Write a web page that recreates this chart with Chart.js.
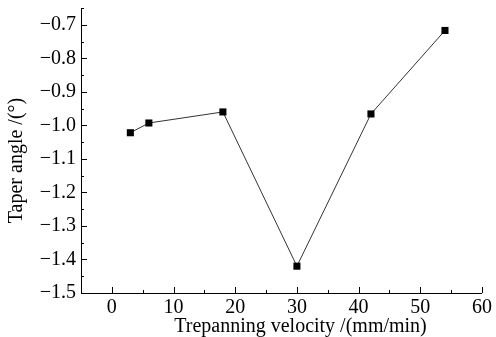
<!DOCTYPE html>
<html>
<head>
<meta charset="utf-8">
<script src="https://cdn.jsdelivr.net/npm/chart.js@4"></script>
<style>
  html, body { margin: 0; padding: 0; background: #fff; overflow: hidden; }
  #wrap { width: 496px; height: 337px; position: relative; }
</style>
</head>
<body>
<div id="wrap"><canvas id="taper-chart"></canvas></div>
<script>
// values
const velocity = [3, 6, 18, 30, 42, 54];
const taperAngle = [-1.022, -0.993, -0.960, -1.420, -0.966, -0.717];
const xTicks = [0, 10, 20, 30, 40, 50, 60];
const yTicks = [-1.5, -1.4, -1.3, -1.2, -1.1, -1.0, -0.9, -0.8, -0.7];
const xTitle = 'Trepanning velocity /(mm/min)';
const yTitle = 'Taper angle /(\u00b0)';

const FONT = 'Liberation Serif';

function fmtY(v) {
    return (v < 0 ? '\u2212' : '') + Math.abs(v).toFixed(1);
}

// axis lines, inward ticks and axis titles (titles sit a bit off-centre in the original)
const axesDeco = {
    id: 'axesDeco',
    afterDraw(chart) {
        const ctx = chart.ctx;
        const area = chart.chartArea;
        const xs = chart.scales.x, ys = chart.scales.y;
        ctx.save();
        ctx.strokeStyle = '#000';
        ctx.lineWidth = 1;
        ctx.beginPath();
        ctx.moveTo(area.left + 0.5, area.top);
        ctx.lineTo(area.left + 0.5, area.bottom + 0.5);
        ctx.lineTo(area.right, area.bottom + 0.5);
        for (let v = -5; v <= 60; v += 5) {
            const px = Math.round(xs.getPixelForValue(v)) + 0.5;
            const len = v % 10 === 0 ? 6 : 3;
            ctx.moveTo(px, area.bottom);
            ctx.lineTo(px, area.bottom - len);
        }
        for (let i = 0; i <= 17; i++) {
            const v = -1.5 + i * 0.05;
            const py = Math.round(ys.getPixelForValue(v)) + 0.5;
            const len = i % 2 === 0 ? 6 : 3;
            ctx.moveTo(area.left, py);
            ctx.lineTo(area.left + len, py);
        }
        ctx.stroke();

        ctx.fillStyle = '#000';
        ctx.font = '20px "' + FONT + '"';
        ctx.textAlign = 'center';
        ctx.textBaseline = 'alphabetic';
        ctx.fillText(xTitle, (area.left + area.right) / 2 + 19, chart.height - 5);

        ctx.translate(17, (area.top + area.bottom) / 2 + 10);
        ctx.rotate(-Math.PI / 2);
        ctx.textBaseline = 'middle';
        ctx.fillText(yTitle, 0, 0);
        ctx.restore();
    }
};

const ctx = document.getElementById('taper-chart').getContext('2d');
new Chart(ctx, {
    type: 'scatter',
    data: {
        datasets: [{
            data: velocity.map((x, i) => ({ x: x, y: taperAngle[i] })),
            showLine: true,
            borderColor: '#333',
            borderWidth: 1,
            backgroundColor: '#000',
            pointStyle: 'rect',
            pointRadius: 5,
            pointBorderWidth: 0,
            pointBackgroundColor: '#000'
        }]
    },
    options: {
        responsive: true,
        maintainAspectRatio: false,
        animation: false,
        layout: { padding: { top: 8, right: 14, left: 0, bottom: 0 } },
        plugins: { legend: { display: false }, tooltip: { enabled: false } },
        scales: {
            x: {
                type: 'linear',
                min: -5, max: 60,
                afterBuildTicks: s => { s.ticks = xTicks.map(v => ({ value: v })); },
                afterFit: s => { s.height = 44; s.paddingLeft = 0; s.paddingRight = 0; },
                grid: { display: false, drawTicks: false },
                border: { display: false },
                ticks: { color: '#000', padding: 3, maxRotation: 0, font: { family: FONT, size: 20 } }
            },
            y: {
                type: 'linear',
                min: -1.5, max: -0.65,
                afterBuildTicks: s => { s.ticks = yTicks.map(v => ({ value: v })); },
                afterFit: s => { s.width = 81; s.paddingTop = 0; s.paddingBottom = 0; },
                grid: { display: false, drawTicks: false },
                border: { display: false },
                ticks: { color: '#000', padding: 5, callback: v => fmtY(v), font: { family: FONT, size: 20 } }
            }
        }
    },
    plugins: [axesDeco]
});
</script>
</body>
</html>
